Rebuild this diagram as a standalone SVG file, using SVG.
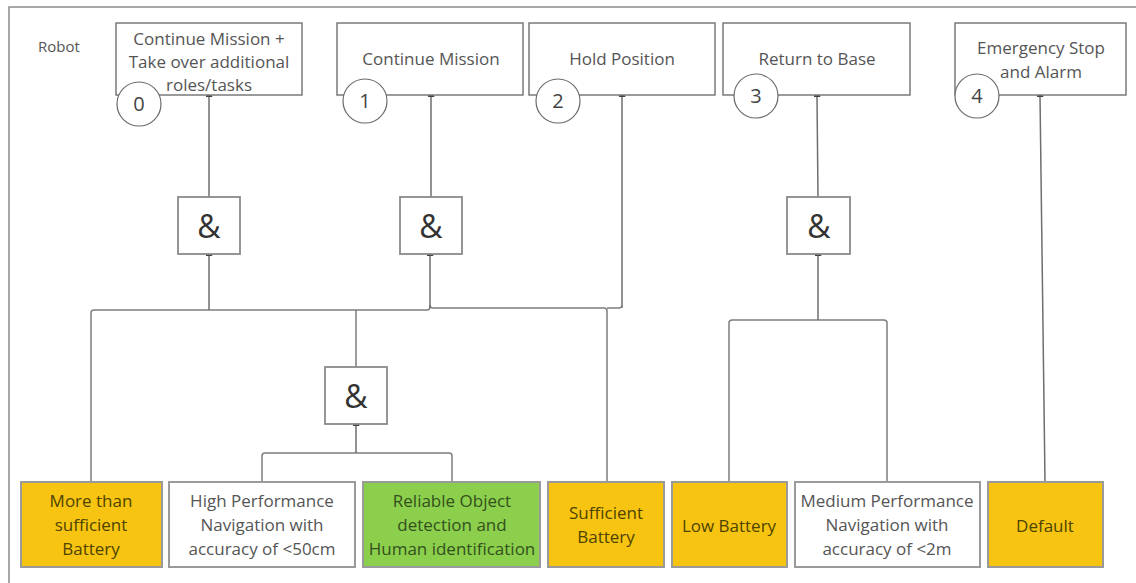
<svg xmlns="http://www.w3.org/2000/svg" width="1136" height="583" viewBox="0 0 1136 583">
  <style>
    .frame { fill: none; stroke: #8c8c8c; stroke-width: 1.5; }
    .out { fill: #ffffff; stroke: #7a7a7a; stroke-width: 1.5; }
    .gate { fill: #ffffff; stroke: #8a8a8a; stroke-width: 1.8; }
    .badge { fill: #ffffff; stroke: #6a6a6a; stroke-width: 1.2; }
    .inp { stroke: #9a9a9a; stroke-width: 2; }
    .yellow { fill: #f7c511; }
    .green { fill: #8bcf4c; }
    .white { fill: #ffffff; }
    .t { font-family: "Open Sans", "Noto Sans", "Liberation Sans", sans-serif; font-size: 17px; text-anchor: middle; fill: #555555; }
    .ty { fill: #4e4300; }
    .tg { fill: #34501c; }
    .num { font-family: "Open Sans", "Noto Sans", "Liberation Sans", sans-serif; font-size: 20px; text-anchor: middle; fill: #444444; }
    .amp { font-family: "Open Sans", "Noto Sans", "Liberation Sans", sans-serif; font-size: 32px; text-anchor: middle; fill: #333333; }
    .lbl { font-family: "Open Sans", "Noto Sans", "Liberation Sans", sans-serif; font-size: 15px; fill: #555555; }
    .wire { fill: none; stroke: #7d7d7d; stroke-width: 1.5; stroke-linejoin: round; }
    .wire-up { fill: none; stroke: #6e6e6e; stroke-width: 1.5; marker-end: url(#arrow); }
  </style>
  <defs>
    <marker id="arrow" markerUnits="userSpaceOnUse" markerWidth="7" markerHeight="8" refX="3.5" refY="7" orient="0" viewBox="0 0 7 8">
      <path d="M0,8 L3.5,0 L7,8 Z" fill="#444444"/>
    </marker>
  </defs>

  <!-- container frame -->
  <path class="frame" d="M9,583 V7 H1140"/>
  <text class="lbl" x="38" y="52">Robot</text>

  <!-- connectors -->
  <g id="connectors">
    <!-- outcome feeds -->
    <path class="wire-up" d="M209,197 V96"/>
    <path class="wire-up" d="M431,197 V96"/>
    <path class="wire-up" d="M622,308 V96"/>
    <path class="wire-up" d="M818,197 L817,96"/>
    <path class="wire-up" d="M1045,482 L1040,96"/>
    <!-- lower bus into gates A and B -->
    <path class="wire" d="M91,482 V313 Q91,310 94,310 H427 Q430,310 430,307"/>
    <path class="wire" d="M356,367 V310"/>
    <path class="wire" d="M607,482 V311 Q607,308 604,308 H433 Q430,308 430,305"/>
    <path class="wire" d="M607,308 H619 Q622,308 622,305"/>
    <path class="wire-up" d="M209,310 V255"/>
    <path class="wire-up" d="M430,308 V255"/>
    <!-- inputs into gate D -->
    <path class="wire" d="M262,482 V456 Q262,453 265,453 H449 Q452,453 452,456 V482"/>
    <path class="wire-up" d="M356,453 V425"/>
    <!-- inputs into gate C -->
    <path class="wire" d="M729,482 V323 Q729,320 732,320 H884 Q887,320 887,323 V482"/>
    <path class="wire-up" d="M818,320 V255"/>
  </g>

  <!-- outcome boxes -->
  <g id="out0">
    <rect class="out" x="116" y="23" width="186" height="72"/>
    <text class="t" x="209" y="45">Continue Mission +</text>
    <text class="t" x="209" y="68">Take over additional</text>
    <text class="t" x="209" y="91">roles/tasks</text>
    <circle class="badge" cx="139" cy="104" r="22"/>
    <text class="num" x="139" y="111">0</text>
  </g>
  <g id="out1">
    <rect class="out" x="337" y="23" width="186" height="72"/>
    <text class="t" x="431" y="65">Continue Mission</text>
    <circle class="badge" cx="365" cy="101" r="22"/>
    <text class="num" x="365" y="108">1</text>
  </g>
  <g id="out2">
    <rect class="out" x="529" y="23" width="186" height="72"/>
    <text class="t" x="622" y="65">Hold Position</text>
    <circle class="badge" cx="558" cy="101" r="22"/>
    <text class="num" x="558" y="108">2</text>
  </g>
  <g id="out3">
    <rect class="out" x="723" y="23" width="187" height="72"/>
    <text class="t" x="817" y="65">Return to Base</text>
    <circle class="badge" cx="756" cy="96" r="22"/>
    <text class="num" x="756" y="103">3</text>
  </g>
  <g id="out4">
    <rect class="out" x="955" y="23" width="171" height="72"/>
    <text class="t" x="1041" y="54">Emergency Stop</text>
    <text class="t" x="1041" y="78">and Alarm</text>
    <circle class="badge" cx="977" cy="96" r="22"/>
    <text class="num" x="977" y="103">4</text>
  </g>

  <!-- AND gates -->
  <g id="gateA">
    <rect class="gate" x="178" y="197" width="62" height="57"/>
    <text class="amp" x="209" y="238">&amp;</text>
  </g>
  <g id="gateB">
    <rect class="gate" x="400" y="197" width="62" height="57"/>
    <text class="amp" x="431" y="238">&amp;</text>
  </g>
  <g id="gateC">
    <rect class="gate" x="787" y="197" width="63" height="57"/>
    <text class="amp" x="819" y="238">&amp;</text>
  </g>
  <g id="gateD">
    <rect class="gate" x="325" y="367" width="62" height="57"/>
    <text class="amp" x="356" y="408">&amp;</text>
  </g>

  <!-- condition boxes -->
  <g id="in-more-battery">
    <rect class="inp yellow" x="21" y="482" width="141" height="85"/>
    <text class="t ty" x="91" y="507">More than</text>
    <text class="t ty" x="91" y="531">sufficient</text>
    <text class="t ty" x="91" y="555">Battery</text>
  </g>
  <g id="in-high-nav">
    <rect class="inp white" x="169" y="482" width="186" height="85"/>
    <text class="t" x="262" y="507">High Performance</text>
    <text class="t" x="262" y="531">Navigation with</text>
    <text class="t" x="262" y="555">accuracy of &lt;50cm</text>
  </g>
  <g id="in-detection">
    <rect class="inp green" x="363" y="482" width="177" height="85"/>
    <text class="t tg" x="452" y="507">Reliable Object</text>
    <text class="t tg" x="452" y="531">detection and</text>
    <text class="t tg" x="452" y="555">Human identification</text>
  </g>
  <g id="in-sufficient-battery">
    <rect class="inp yellow" x="548" y="482" width="116" height="85"/>
    <text class="t ty" x="606" y="519">Sufficient</text>
    <text class="t ty" x="606" y="543">Battery</text>
  </g>
  <g id="in-low-battery">
    <rect class="inp yellow" x="672" y="482" width="115" height="85"/>
    <text class="t ty" x="729" y="532">Low Battery</text>
  </g>
  <g id="in-medium-nav">
    <rect class="inp white" x="795" y="482" width="185" height="85"/>
    <text class="t" x="887" y="507">Medium Performance</text>
    <text class="t" x="887" y="531">Navigation with</text>
    <text class="t" x="887" y="555">accuracy of &lt;2m</text>
  </g>
  <g id="in-default">
    <rect class="inp yellow" x="988" y="482" width="115" height="85"/>
    <text class="t ty" x="1045" y="532">Default</text>
  </g>
</svg>
